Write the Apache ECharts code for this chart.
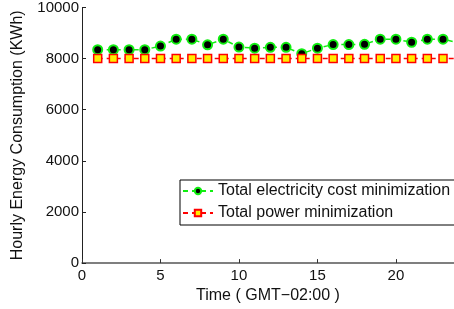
<!DOCTYPE html>
<html>
<head>
<meta charset="utf-8">
<script src="https://cdn.jsdelivr.net/npm/echarts@6/dist/echarts.min.js"></script>
<style>
  html, body { margin: 0; padding: 0; background: #fff; }
  #chart { width: 454px; height: 309px; }
</style>
</head>
<body>
<div id="chart"></div>
<script>
// hours of the day
const hours = [1, 2, 3, 4, 5, 6, 7, 8, 9, 10, 11, 12, 13, 14, 15, 16, 17, 18, 19, 20, 21, 22, 23, 24];
// total electricity cost minimization (KWh)
const costMin = [8350, 8350, 8350, 8350, 8490, 8760, 8760, 8540, 8760, 8450, 8410, 8440,
                 8440, 8190, 8410, 8550, 8550, 8560, 8760, 8760, 8640, 8760, 8760, 8620];
// total power minimization (KWh)
const powerMin = [8000, 8000, 8000, 8000, 8000, 8000, 8000, 8000, 8000, 8000, 8000, 8000,
                  8000, 8000, 8000, 8000, 8000, 8000, 8000, 8000, 8000, 8000, 8000, 8000];
const xTicks = [0, 5, 10, 15, 20];
const yTicks = [0, 2000, 4000, 6000, 8000, 10000];

const font = 'Liberation Sans, Arial, Helvetica, sans-serif';

const chart = echarts.init(document.getElementById('chart'));
chart.setOption({
    animation: false,
    grid: { left: 82, right: 0, top: 6, bottom: 45 },
    legend: {
        left: 180,
        top: 180,
        orient: 'vertical',
        backgroundColor: '#fff',
        borderColor: '#000',
        borderWidth: 1,
        borderRadius: 0,
        padding: [3, 8, 4, 2],
        itemGap: 6,
        itemWidth: 30,
        itemHeight: 8,
        textStyle: { fontFamily: font, fontSize: 16, color: '#111' },
        data: ['Total electricity cost minimization', 'Total power minimization']
    },
    xAxis: {
        type: 'value',
        min: 0,
        max: 23.7,
        interval: 5,
        name: 'Time ( GMT\u221202:00 )',
        nameLocation: 'middle',
        nameGap: 22,
        nameTextStyle: { fontFamily: font, fontSize: 16, color: '#111' },
        axisLine: { lineStyle: { color: '#555', width: 1.5 } },
        axisTick: { inside: true, length: 4, lineStyle: { color: '#333' } },
        axisLabel: {
            fontFamily: font, fontSize: 15, color: '#111', margin: 5,
            showMaxLabel: false,
            formatter: v => xTicks.includes(v) ? String(v) : ''
        },
        splitLine: { show: false }
    },
    yAxis: {
        type: 'value',
        min: 0,
        max: 10000,
        interval: 2000,
        name: 'Hourly Energy Consumption (KWh)',
        nameLocation: 'middle',
        nameGap: 56,
        nameTextStyle: { fontFamily: font, fontSize: 16, color: '#111' },
        axisLine: { show: true, lineStyle: { color: '#222', width: 1 } },
        axisTick: { show: true, inside: true, length: 4, lineStyle: { color: '#222' } },
        axisLabel: {
            fontFamily: font, fontSize: 15, color: '#111', margin: 3,
            formatter: v => yTicks.includes(v) ? String(v) : ''
        },
        splitLine: { show: false }
    },
    series: [
        {
            name: 'Total electricity cost minimization',
            type: 'line',
            data: hours.map((h, i) => [h, costMin[i]]),
            symbol: 'circle',
            symbolSize: 9,
            color: '#00ee00',
            itemStyle: { color: '#000', borderColor: '#11ee11', borderWidth: 2 },
            lineStyle: { color: '#11ee11', width: 1.5, type: [5, 4] }
        },
        {
            name: 'Total power minimization',
            type: 'line',
            data: hours.map((h, i) => [h, powerMin[i]]),
            symbol: 'rect',
            symbolSize: 8,
            color: '#ff0000',
            itemStyle: { color: '#ffee00', borderColor: '#ff0000', borderWidth: 1.5 },
            lineStyle: { color: '#ff0000', width: 1.5, type: [5, 4] }
        }
    ]
});
</script>
</body>
</html>
